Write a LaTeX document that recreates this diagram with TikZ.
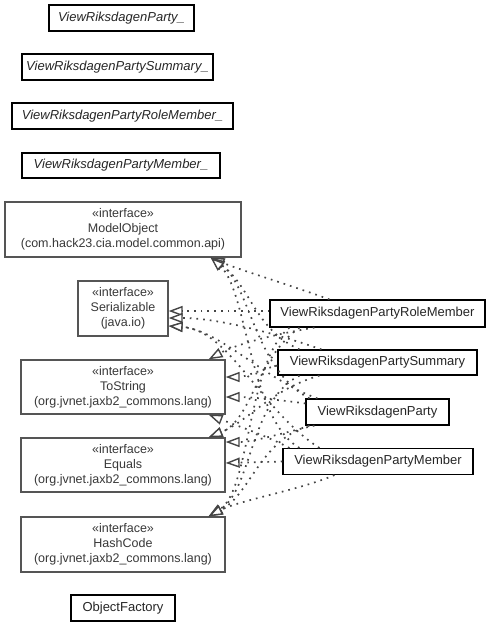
\documentclass[tikz,border=0pt]{standalone}
\usepackage{fontspec}
\setmainfont{Liberation Sans}
\usetikzlibrary{arrows.meta,calc}
\definecolor{edgegray}{HTML}{454545}
\definecolor{ifgray}{HTML}{555555}
\definecolor{iftext}{HTML}{383838}
\begin{document}
\begin{tikzpicture}[x=1pt,y=-1pt,
  cls/.style={draw=black, line width=1.1pt, inner sep=0pt, fill=white, text=black!85,
    font=\fontsize{13}{15}\selectfont},
  icls/.style={cls, font=\fontsize{13}{15}\selectfont\itshape},
  iface/.style={draw=ifgray, line width=1.3pt, inner sep=0pt, fill=white,
    text=iftext, align=center, font=\fontsize{12.5}{15}\selectfont},
  realize/.style={draw=edgegray, line width=1.7pt, dash pattern=on 1.7pt off 5pt,
    arrows={-Triangle[open, length=14pt, width=10pt, line width=1.4pt, fill=white]}}
]
\useasboundingbox (0,0) rectangle (491,627);

% classes with trailing underscore
\node[icls, minimum width=145pt, minimum height=26pt] (P_) at (121.5,18) {ViewRiksdagenParty\_};
\node[icls, minimum width=191pt, minimum height=26pt] (S_) at (117.5,67) {ViewRiksdagenPartySummary\_};
\node[icls, minimum width=221pt, minimum height=26pt] (RM_) at (122.5,116) {ViewRiksdagenPartyRoleMember\_};
\node[icls, minimum width=198pt, minimum height=25pt] (M_) at (121,165.5) {ViewRiksdagenPartyMember\_};

% interfaces
\node[iface, minimum width=236pt, minimum height=55pt] (MO) at (123,229.5) {«interface»\\ModelObject\\(com.hack23.cia.model.common.api)};
\node[iface, minimum width=90pt, minimum height=55pt] (SER) at (123,308.5) {«interface»\\Serializable\\(java.io)};
\node[iface, minimum width=204pt, minimum height=54pt] (TS) at (123,387) {«interface»\\ToString\\(org.jvnet.jaxb2\_commons.lang)};
\node[iface, minimum width=204pt, minimum height=54pt] (EQ) at (123,465) {«interface»\\Equals\\(org.jvnet.jaxb2\_commons.lang)};
\node[iface, minimum width=204pt, minimum height=55pt] (HC) at (123,544.5) {«interface»\\HashCode\\(org.jvnet.jaxb2\_commons.lang)};

\node[cls, minimum width=104pt, minimum height=26pt] (OF) at (123,608) {ObjectFactory};

% implementing classes
\node[cls, minimum width=215pt, minimum height=27pt] (RM) at (377.5,313.5) {ViewRiksdagenPartyRoleMember};
\node[cls, minimum width=199pt, minimum height=25pt] (SU) at (377.5,362.5) {ViewRiksdagenPartySummary};
\node[cls, minimum width=143pt, minimum height=26pt] (PA) at (377.5,412) {ViewRiksdagenParty};
\node[cls, minimum width=190pt, minimum height=26pt] (ME) at (378,461.5) {ViewRiksdagenPartyMember};

% edges: RoleMember
\draw[realize] ($(RM.north west)+(60,0)$) .. controls (290,285) and (240,270) .. ($(MO.south east)+(-31,0)$);
\draw[realize] ($(RM.west)+(0,-2.5)$) -- ($(SER.east)+(0,2.5)$);
\draw[realize] ($(RM.south west)+(45,0)$) .. controls (270,335) and (235,345) .. ($(TS.north east)+(-17,0)$);
\draw[realize] ($(RM.south west)+(30,0)$) .. controls (255,360) and (252,420) .. ($(EQ.north east)+(-17,0)$);
\draw[realize] ($(RM.south west)+(20,0)$) .. controls (248,360) and (250,490) .. ($(HC.north east)+(-17,0)$);
% Summary
\draw[realize] ($(SU.north west)+(22,0)$) .. controls (255,330) and (250,285) .. ($(MO.south east)+(-31,0)$);
\draw[realize] ($(SU.north west)+(44,0)$) .. controls (280,335) and (220,318) .. ($(SER.east)+(0,9.5)$);
\draw[realize] ($(SU.west)+(0,3)$) .. controls (260,370) and (245,377) .. ($(TS.east)+(0,-10)$);
\draw[realize] ($(SU.south west)+(42,0)$) .. controls (270,390) and (250,420) .. ($(EQ.north east)+(-17,0)$);
\draw[realize] ($(SU.south west)+(22,0)$) .. controls (250,400) and (252,490) .. ($(HC.north east)+(-17,0)$);
% Party
\draw[realize] ($(PA.north west)+(4,0)$) .. controls (255,370) and (250,285) .. ($(MO.south east)+(-31,0)$);
\draw[realize] ($(PA.north west)+(12,0)$) .. controls (265,380) and (220,330) .. ($(SER.east)+(0,17.5)$);
\draw[realize] ($(PA.north west)+(0,5)$) .. controls (280,400) and (250,397) .. ($(TS.east)+(0,10)$);
\draw[realize] ($(PA.south west)+(9,0)$) .. controls (285,432) and (255,442) .. ($(EQ.east)+(0,-23)$);
\draw[realize] ($(PA.south west)+(4,0)$) .. controls (260,440) and (250,495) .. ($(HC.north east)+(-17,0)$);
% Member
\draw[realize] ($(ME.north west)+(17,0)$) .. controls (250,420) and (247,290) .. ($(MO.south east)+(-31,0)$);
\draw[realize] ($(ME.north west)+(37,0)$) .. controls (260,410) and (230,330) .. ($(SER.east)+(0,17.5)$);
\draw[realize] ($(ME.north west)+(7,0)$) .. controls (265,435) and (235,425) .. ($(TS.south east)+(-17,0)$);
\draw[realize] (ME.west) -- ($(EQ.east)+(0,-2)$);
\draw[realize] ($(ME.south west)+(52,0)$) .. controls (300,490) and (240,500) .. ($(HC.north east)+(-17,0)$);
\end{tikzpicture}
\end{document}
